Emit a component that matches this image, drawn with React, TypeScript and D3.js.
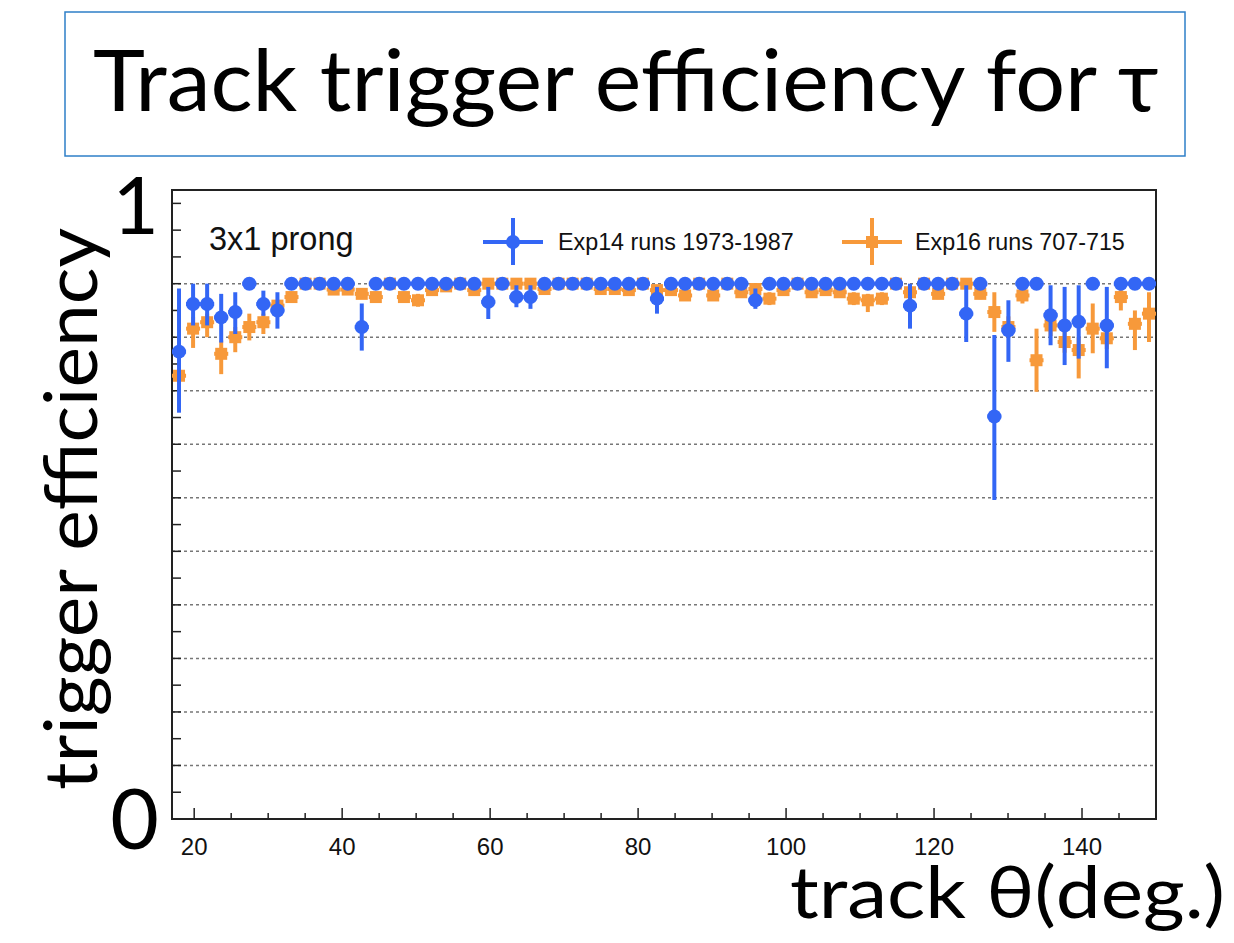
import React from 'react';
import * as d3 from 'd3';

// 70 bins of theta from 17 to 150 deg
const binCount = 70;
const thetaMin = 17;
const thetaMax = 150;

const exp14Eff = [
  0.873, 0.962, 0.962, 0.937, 0.947, 1.0, 0.962, 0.950, 1.0, 1.0,
  1.0, 1.0, 1.0, 0.919, 1.0, 1.0, 1.0, 1.0, 1.0, 1.0,
  1.0, 1.0, 0.966, 1.0, 0.975, 0.975, 1.0, 1.0, 1.0, 1.0,
  1.0, 1.0, 1.0, 1.0, 0.972, 1.0, 1.0, 1.0, 1.0, 1.0,
  1.0, 0.969, 1.0, 1.0, 1.0, 1.0, 1.0, 1.0, 1.0, 1.0,
  1.0, 1.0, 0.959, 1.0, 1.0, 1.0, 0.944, 1.0, 0.752, 0.913,
  1.0, 1.0, 0.941, 0.922, 0.929, 1.0, 0.922, 1.0, 1.0, 1.0,
];
const exp14ErrLow = [
  0.114, 0.040, 0.040, 0.047, 0.041, 0, 0.022, 0.034, 0, 0,
  0, 0, 0, 0.044, 0, 0, 0, 0, 0, 0,
  0, 0, 0.032, 0, 0.019, 0.022, 0, 0, 0, 0,
  0, 0, 0, 0, 0.028, 0, 0, 0, 0, 0,
  0, 0.016, 0, 0, 0, 0, 0, 0, 0, 0,
  0, 0, 0.043, 0, 0, 0, 0.053, 0, 0.156, 0.059,
  0, 0, 0.056, 0.074, 0.069, 0, 0.080, 0, 0, 0,
];
const exp14ErrHigh = [
  0.118, 0.038, 0.038, 0.044, 0.037, 0, 0.025, 0.034, 0, 0,
  0, 0, 0, 0.044, 0, 0, 0, 0, 0, 0,
  0, 0, 0.028, 0, 0.022, 0.022, 0, 0, 0, 0,
  0, 0, 0, 0, 0.022, 0, 0, 0, 0, 0,
  0, 0.022, 0, 0, 0, 0, 0, 0, 0, 0,
  0, 0, 0.041, 0, 0, 0, 0.053, 0, 0.152, 0.056,
  0, 0, 0.056, 0.072, 0.068, 0, 0.072, 0, 0, 0,
];

const exp16Eff = [
  0.828, 0.916, 0.928, 0.869, 0.900, 0.919, 0.928, 0.959, 0.975, 1.0,
  1.0, 0.989, 0.989, 0.981, 0.975, 1.0, 0.975, 0.969, 0.988, 0.995,
  1.0, 0.988, 1.0, 1.0, 1.0, 1.0, 0.990, 1.0, 1.0, 1.0,
  0.990, 0.990, 0.988, 1.0, 0.988, 0.988, 0.978, 1.0, 0.978, 1.0,
  0.984, 0.990, 0.972, 0.988, 1.0, 0.984, 0.988, 0.984, 0.972, 0.969,
  0.972, 1.0, 0.984, 1.0, 0.981, 1.0, 1.0, 0.981, 0.947, 0.919,
  0.978, 0.857, 0.922, 0.891, 0.876, 0.916, 0.898, 0.975, 0.925, 0.944,
];
const exp16ErrLow = [
  0.012, 0.036, 0.028, 0.038, 0.028, 0.025, 0.022, 0.010, 0.010, 0,
  0, 0.006, 0.006, 0.008, 0.010, 0, 0.010, 0.012, 0.006, 0.004,
  0, 0.006, 0, 0, 0, 0, 0.006, 0, 0, 0,
  0.006, 0.006, 0.006, 0, 0.006, 0.006, 0.010, 0, 0.010, 0,
  0.008, 0.006, 0.012, 0.006, 0, 0.008, 0.006, 0.008, 0.012, 0.022,
  0.012, 0, 0.008, 0, 0.010, 0, 0, 0.010, 0.037, 0.020,
  0.015, 0.059, 0.020, 0.020, 0.053, 0.046, 0.020, 0.025, 0.049, 0.053,
];
const exp16ErrHigh = [
  0.012, 0.022, 0.016, 0.025, 0.019, 0.025, 0.016, 0.010, 0.010, 0,
  0, 0.006, 0.006, 0.008, 0.010, 0, 0.010, 0.012, 0.006, 0.004,
  0, 0.006, 0, 0, 0, 0, 0.006, 0, 0, 0,
  0.006, 0.006, 0.006, 0, 0.006, 0.006, 0.010, 0, 0.010, 0,
  0.008, 0.006, 0.012, 0.006, 0, 0.008, 0.006, 0.008, 0.012, 0.012,
  0.012, 0, 0.008, 0, 0.010, 0, 0, 0.010, 0.037, 0.020,
  0.014, 0.059, 0.020, 0.020, 0.024, 0.047, 0.020, 0.013, 0.025, 0.040,
];

const xMajorTicks = [20, 40, 60, 80, 100, 120, 140];
const gridValues = [0.1, 0.2, 0.3, 0.4, 0.5, 0.6, 0.7, 0.8, 0.9, 1.0];

const blue = '#3366f5';
const orange = '#f7993a';

export default function App() {
  const margin = { left: 172, right: 1156, top: 190, bottom: 819 };
  const x = d3.scaleLinear().domain([thetaMin, thetaMax]).range([margin.left, margin.right]);
  const y = d3.scaleLinear().domain([0, 1.175]).range([margin.bottom, margin.top]);

  const binWidth = (thetaMax - thetaMin) / binCount;
  const centers = d3.range(binCount).map(i => thetaMin + binWidth * (i + 0.5));
  const halfPx = (x(binWidth) - x(0)) / 2;

  const xMinor = d3.range(20, 151, 5).filter(v => !xMajorTicks.includes(v));
  const yTicks = d3.range(0.05, 1.176, 0.05);

  const helv = '"Liberation Sans", Arial, sans-serif';
  const slide = 'Lato, "Open Sans", sans-serif';

  const drawSeries = (eff: number[], lo: number[], hi: number[], color: string, square: boolean) =>
    centers.map((c, i) => {
      const cx = x(c);
      const cy = y(eff[i]);
      return (
        <g key={i}>
          {(lo[i] > 0 || hi[i] > 0) && (
            <line x1={cx} x2={cx} y1={y(eff[i] - lo[i])} y2={y(eff[i] + hi[i])}
              stroke={color} strokeWidth={4} />
          )}
          <line x1={cx - halfPx} x2={cx + halfPx} y1={cy} y2={cy} stroke={color} strokeWidth={4} />
          {square
            ? <rect x={cx - 6} y={cy - 6} width={12} height={12} fill={color} />
            : <circle cx={cx} cy={cy} r={7} fill={color} />}
        </g>
      );
    });

  return (
    <svg width={1234} height={943} style={{ position: 'absolute', left: 0, top: 0, background: '#fff' }}>
      {/* title box */}
      <rect x={65} y={12} width={1120} height={144} fill="#fff" stroke="#2e7fc8" strokeWidth={1.5} />
      <text x={93} y={111} fontFamily={slide} fontSize={86} fill="#000"
        textLength={1066} lengthAdjust="spacingAndGlyphs">Track trigger efficiency for τ</text>

      {/* grid */}
      {gridValues.map(v => (
        <line key={v} x1={margin.left} x2={margin.right} y1={y(v)} y2={y(v)}
          stroke="#777" strokeWidth={1.5} strokeDasharray="3,3" />
      ))}

      {/* frame */}
      <rect x={margin.left} y={margin.top} width={margin.right - margin.left} height={margin.bottom - margin.top}
        fill="none" stroke="#222" strokeWidth={2} />

      {/* y ticks */}
      {yTicks.map(v => (
        <line key={v} x1={margin.left} x2={margin.left + 9} y1={y(v)} y2={y(v)} stroke="#222" strokeWidth={1.5} />
      ))}
      {/* x ticks */}
      {xMajorTicks.map(v => (
        <line key={v} x1={x(v)} x2={x(v)} y1={margin.bottom} y2={margin.bottom - 11} stroke="#222" strokeWidth={1.5} />
      ))}
      {xMinor.map(v => (
        <line key={v} x1={x(v)} x2={x(v)} y1={margin.bottom} y2={margin.bottom - 6} stroke="#222" strokeWidth={1.5} />
      ))}
      {xMajorTicks.map(v => (
        <text key={v} x={x(v)} y={855} textAnchor="middle" fontFamily={helv} fontSize={24} fill="#111">{v}</text>
      ))}

      {/* data */}
      {drawSeries(exp16Eff, exp16ErrLow, exp16ErrHigh, orange, true)}
      {drawSeries(exp14Eff, exp14ErrLow, exp14ErrHigh, blue, false)}

      {/* legend */}
      <text x={209} y={250} fontFamily={helv} fontSize={32.5} fill="#111">3x1 prong</text>
      <line x1={483} x2={543} y1={242} y2={242} stroke={blue} strokeWidth={4} />
      <line x1={513} x2={513} y1={218} y2={265} stroke={blue} strokeWidth={4} />
      <circle cx={513} cy={242} r={7} fill={blue} />
      <text x={558} y={250} fontFamily={helv} fontSize={23.3} fill="#111">Exp14 runs 1973-1987</text>
      <line x1={842} x2={902} y1={242} y2={242} stroke={orange} strokeWidth={4} />
      <line x1={872} x2={872} y1={218} y2={265} stroke={orange} strokeWidth={4} />
      <rect x={866} y={236} width={12} height={12} fill={orange} />
      <text x={915} y={250} fontFamily={helv} fontSize={23.3} fill="#111">Exp16 runs 707-715</text>

      {/* slide annotations */}
      <text transform="translate(97,509) rotate(-90)" textAnchor="middle" fontFamily={slide} fontSize={74}
        fill="#000" textLength={562} lengthAdjust="spacingAndGlyphs">trigger efficiency</text>
      <text x={159} y={234} textAnchor="end" fontFamily={slide} fontSize={80} fill="#000">1</text>
      <text x={159} y={849} textAnchor="end" fontFamily={slide} fontSize={84} fill="#000">0</text>
      <text x={790} y={918} fontFamily={slide} fontSize={72} fill="#000"
        textLength={435} lengthAdjust="spacingAndGlyphs">track θ(deg.)</text>
    </svg>
  );
}
